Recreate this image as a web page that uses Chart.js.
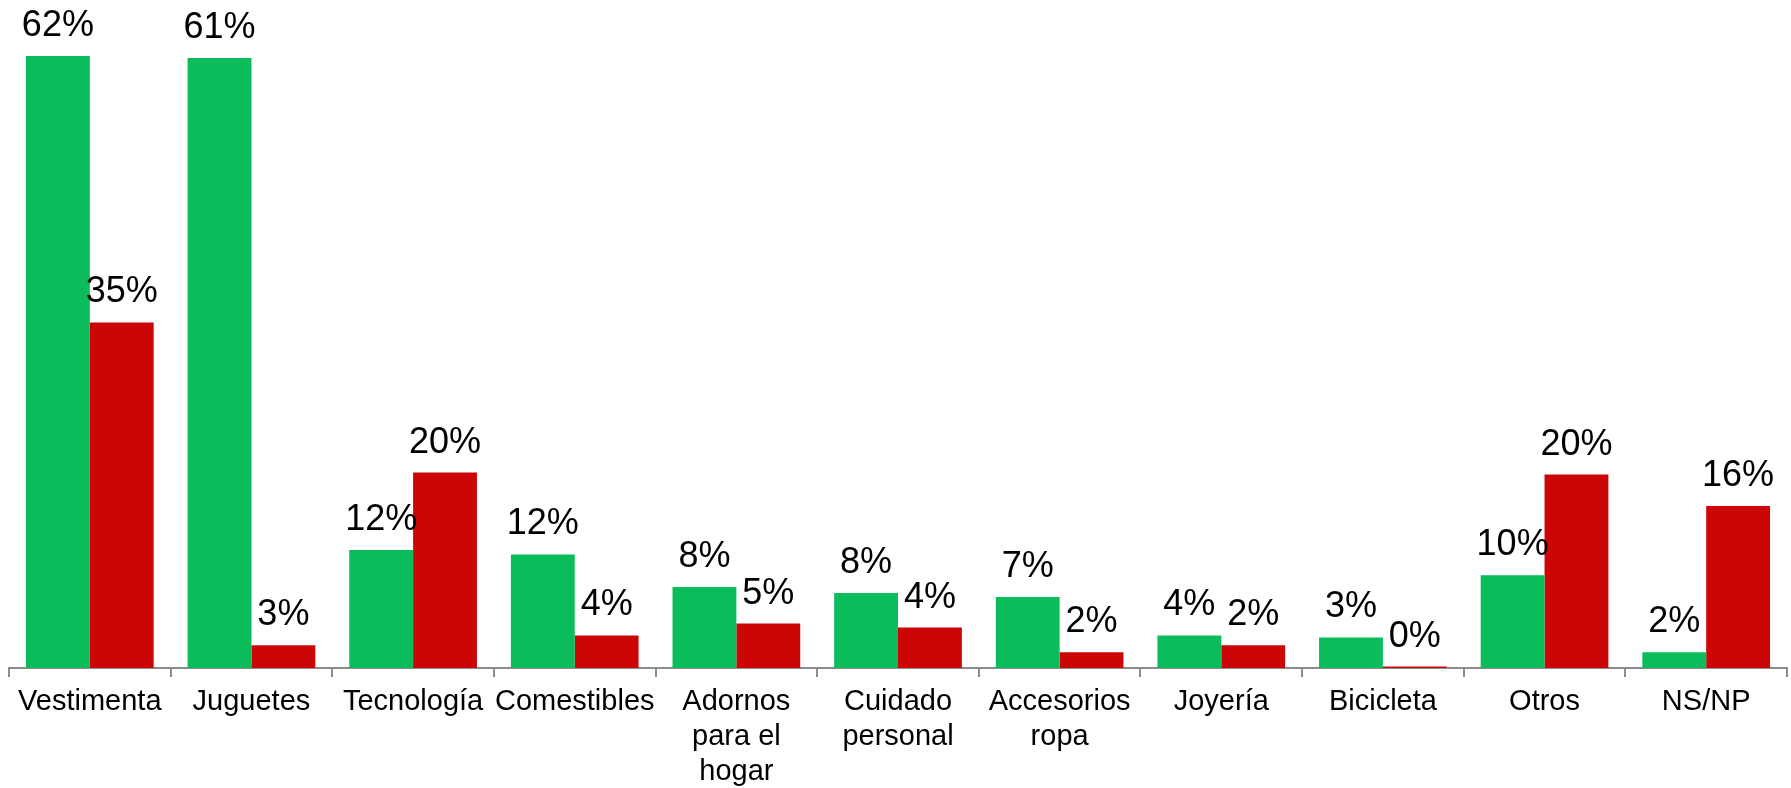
<!DOCTYPE html>
<html>
<head>
<meta charset="utf-8">
<script src="https://cdn.jsdelivr.net/npm/chart.js@4/dist/chart.umd.min.js"></script>
<style>
  html, body { margin: 0; padding: 0; background: #fff; }
  #wrap { width: 1791px; height: 788px; }
</style>
</head>
<body>
<div id="wrap"><canvas id="chart"></canvas></div>
<script>
// Categories (multi-line ones as arrays)
const categories = [
  'Vestimenta', 'Juguetes', 'Tecnología', 'Comestibles',
  ['Adornos', 'para el', 'hogar'], ['Cuidado', 'personal'], ['Accesorios', 'ropa'],
  'Joyería', 'Bicicleta', 'Otros', 'NS/NP'
];

// Series values
const greenValues = [62, 61.8, 11.95, 11.5, 8.2, 7.6, 7.2, 3.3, 3.1, 9.4, 1.6];
const redValues = [35, 2.3, 19.8, 3.3, 4.5, 4.1, 1.6, 2.3, 0.15, 19.6, 16.4];

// Value labels as printed on the chart
const greenLabels = ['62%', '61%', '12%', '12%', '8%', '8%', '7%', '4%', '3%', '10%', '2%'];
const redLabels = ['35%', '3%', '20%', '4%', '5%', '4%', '2%', '2%', '0%', '20%', '16%'];

const yMax = 67.67;

// Simple value label plugin (drawn after all bars)
const valueLabels = {
  id: 'valueLabels',
  afterDatasetsDraw(chart) {
    const ctx = chart.ctx;
    ctx.save();
    ctx.font = '36px "Liberation Sans", Arial, sans-serif';
    ctx.fillStyle = '#000';
    ctx.textAlign = 'center';
    ctx.textBaseline = 'alphabetic';
    chart.data.datasets.forEach((ds, i) => {
      const meta = chart.getDatasetMeta(i);
      meta.data.forEach((bar, j) => {
        ctx.fillText(ds.valueLabels[j], bar.x, bar.y - 20);
      });
    });
    ctx.restore();
  }
};

const axisGray = '#8c8c8c';

new Chart(document.getElementById('chart'), {
  type: 'bar',
  data: {
    labels: categories,
    datasets: [
      {
        data: greenValues,
        valueLabels: greenLabels,
        backgroundColor: '#0abd5a',
        borderWidth: 0,
        barPercentage: 1.0,
        categoryPercentage: 0.79
      },
      {
        data: redValues,
        valueLabels: redLabels,
        backgroundColor: '#cc0606',
        borderWidth: 0,
        barPercentage: 1.0,
        categoryPercentage: 0.79
      }
    ]
  },
  options: {
    responsive: true,
    maintainAspectRatio: false,
    animation: false,
    layout: { padding: { left: 9, right: 4, top: 0, bottom: 0 } },
    plugins: {
      legend: { display: false },
      tooltip: { enabled: false }
    },
    scales: {
      x: {
        afterFit(scale) { scale.height = 120; },
        border: { display: true, color: axisGray, width: 2 },
        grid: {
          display: true,
          drawOnChartArea: false,
          drawTicks: true,
          tickLength: 9,
          color: axisGray,
          lineWidth: 2
        },
        ticks: {
          color: '#000',
          padding: 8,
          maxRotation: 0,
          autoSkip: false,
          font: { family: '"Liberation Sans", Arial, sans-serif', size: 29, lineHeight: 1.2 }
        }
      },
      y: {
        display: false,
        min: 0,
        max: yMax
      }
    }
  },
  plugins: [valueLabels]
});
</script>
</body>
</html>
